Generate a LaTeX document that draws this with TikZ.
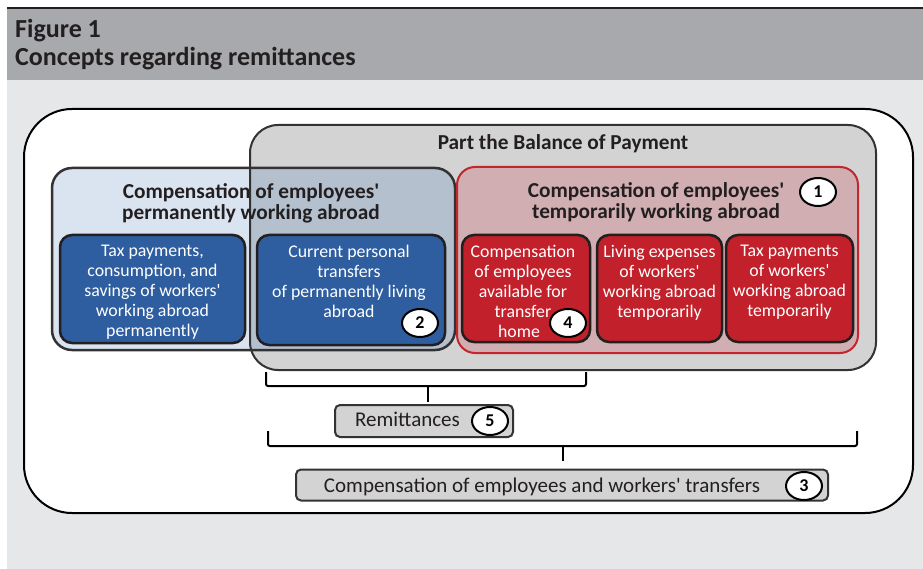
\documentclass[tikz,border=0pt]{standalone}
\usepackage{fontspec}
\setmainfont{Carlito}[Ligatures=TeXOff]
\usetikzlibrary{shapes.geometric}
\definecolor{hdr}{HTML}{A7A9AC}
\definecolor{bgl}{HTML}{E6E7E8}
\definecolor{bopg}{HTML}{D3D3D4}
\definecolor{lblue}{HTML}{DAE3F0}
\definecolor{ovl}{HTML}{B4C0CE}
\definecolor{dblue}{HTML}{2E5E9F}
\definecolor{lred}{HTML}{D0AEB1}
\definecolor{dred}{HTML}{C2202A}
\definecolor{redline}{HTML}{C1272D}
\definecolor{ink}{HTML}{231F20}
\definecolor{edge}{HTML}{333333}
\begin{document}
\begin{tikzpicture}[x=1pt,y=-1pt,
  inbox/.style={draw=ink, line width=2.5pt, rounded corners=12pt, inner sep=0pt},
  intext/.style={text=white, align=center, anchor=north, inner sep=0pt,
    font=\fontsize{17.8}{20}\selectfont},
  num/.style={ellipse, draw=black, fill=white, line width=2pt, minimum width=36pt,
    minimum height=28pt, inner sep=0pt, font=\bfseries\fontsize{18}{18}\selectfont},
  ttl/.style={font=\bfseries\fontsize{21.3}{21}\selectfont, text=ink, align=center, inner sep=0pt, anchor=base},
  ttl2/.style={font=\bfseries\fontsize{21.3}{21}\selectfont, text=ink, align=center, inner sep=0pt, anchor=north},
  lbl/.style={draw=edge, line width=2pt, fill=bopg, rounded corners=5pt, inner sep=0pt},
  lbltext/.style={inner sep=0pt, anchor=base, font=\fontsize{21}{21}\selectfont, text=ink},
  brace/.style={line width=2pt, draw=black, rounded corners=2pt}]
\useasboundingbox (0,0) rectangle (923,569);
\fill[white] (0,0) rectangle (923,569);
\fill[bgl] (7,80) rectangle (923,569);
\fill[hdr] (7,9) rectangle (923,80);
\draw[line width=2pt, ink] (7,8.5) -- (923,8.5);
\node[anchor=base west, inner sep=0pt, text=ink, font=\bfseries\fontsize{26}{26}\selectfont] (fig) at (15,38) {Figure 1};
\node[anchor=base west, inner sep=0pt, text=ink, font=\bfseries\fontsize{26}{26}\selectfont] (cap) at (15,66) {Concepts regarding remittances};
% outer white frame
\node[draw=black, fill=white, line width=2pt, rounded corners=48pt, minimum width=889pt, minimum height=404pt, inner sep=0pt] (outer) at (468.5,311) {};
% balance of payment box (fill)
\fill[bopg, rounded corners=28pt] (250,125) rectangle (876,370);
% blue box fill
\fill[lblue, rounded corners=20pt] (52,168) rectangle (455,350);
\begin{scope}
  \clip[rounded corners=28pt] (250,125) rectangle (876,370);
  \fill[ovl, rounded corners=20pt] (52,168) rectangle (455,350);
\end{scope}
\node[draw=edge, line width=2pt, rounded corners=28pt, minimum width=626pt, minimum height=245pt, inner sep=0pt] (bop) at (563,247.5) {};
\node[draw=edge, line width=2.5pt, rounded corners=20pt, minimum width=403pt, minimum height=182pt, inner sep=0pt] (perm) at (253.5,259) {};
\node[ttl] (boptitle) at (563,150) {Part the Balance of Payment};
\node[ttl2] (permtitle) at (251,183.5) {Compensation of employees'\\permanently working abroad};
% red box
\node[draw=redline, fill=lred, line width=2pt, rounded corners=18pt, minimum width=401pt, minimum height=186pt, inner sep=0pt] (temp) at (657.5,260) {};
\node[ttl2] (temptitle) at (656,182.5) {Compensation of employees'\\temporarily working abroad};
\node[num] (n1) at (818,192) {1};
% inner boxes
\node[inbox, fill=dblue, minimum width=185pt, minimum height=108pt] (b1) at (152.5,289) {};
\node[intext] (b1t) at (152.5,245) {Tax payments,\\consumption, and\\savings of workers'\\working abroad\\permanently};
\node[inbox, fill=dblue, minimum width=188pt, minimum height=110pt] (b2) at (351,290) {};
\node[intext] (b2t) at (349,245) {Current personal\\transfers\\of permanently living\\abroad};
\node[num] (n2) at (420,323) {2};
\node[inbox, fill=dred, minimum width=128pt, minimum height=107pt] (r1) at (526,288.5) {};
\node[intext] (r1t) at (523,245) {Compensation\\of employees\\available for\\transfer\hspace*{8pt}\\home\hspace*{8pt}};
\node[num] (n4) at (568,323) {4};
\node[inbox, fill=dred, minimum width=125pt, minimum height=107pt] (r2) at (659.5,288.5) {};
\node[intext] (r2t) at (659.5,245) {Living expenses\\of workers'\\working abroad\\temporarily};
\node[inbox, fill=dred, minimum width=127pt, minimum height=107pt] (r3) at (789.5,288.5) {};
\node[intext] (r3t) at (789.5,245) {Tax payments\\of workers'\\working abroad\\temporarily};
% remittances
\node[lbl, minimum width=178pt, minimum height=32pt] (rem) at (424,421) {};
\node[lbltext] (remt) at (407.5,426) {Remittances};
\node[num] (n5) at (490,421) {5};
\node[lbl, minimum width=532pt, minimum height=31pt] (cmp) at (562,485) {};
\node[lbltext] (cmpt) at (542,492) {Compensation of employees and workers' transfers};
\node[num] (n3) at (804,486) {3};
% braces
\coordinate (a1) at (266,372);
\coordinate (a2) at (586,372);
\coordinate (a3) at (428,386);
\coordinate (a4) at (428,402);
\draw[brace] (a1) -- (a1 |- a3) -- (a2 |- a3) -- (a2);
\draw[line width=2.5pt] (a3) -- (a4);
\coordinate (c1) at (268,431);
\coordinate (c2) at (857,431);
\coordinate (c3) at (563,446);
\coordinate (c4) at (563,461);
\draw[brace] (c1) -- (c1 |- c3) -- (c2 |- c3) -- (c2);
\draw[line width=2.5pt] (c3) -- (c4);
\end{tikzpicture}
\end{document}
